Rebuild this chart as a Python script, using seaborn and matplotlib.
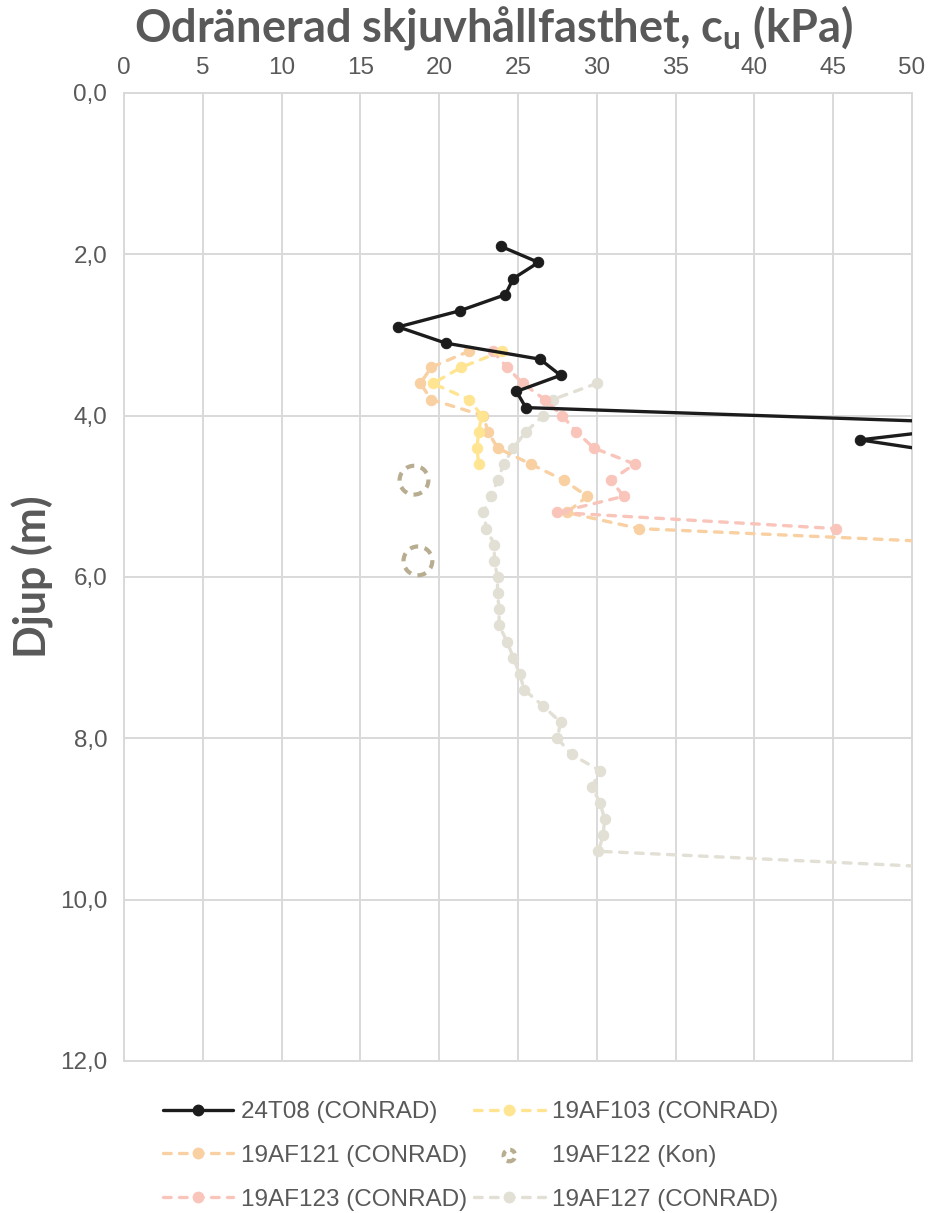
import matplotlib
matplotlib.use("Agg")
import matplotlib.pyplot as plt
import seaborn as sns
import pandas as pd
from matplotlib.lines import Line2D
from matplotlib.ticker import FuncFormatter

# Undrained shear strength profiles (kPa) versus depth (m)
depth_24t08 = [1.9, 2.1, 2.3, 2.5, 2.7, 2.9, 3.1, 3.3, 3.5, 3.7, 3.9, 4.1, 4.3, 4.5]
cu_24t08 = [23.9, 26.3, 24.7, 24.2, 21.3, 17.4, 20.4, 26.4, 27.7, 24.9, 25.5, 55.5, 46.7, 53.5]

depth_19af103 = [3.2, 3.4, 3.6, 3.8, 4.0, 4.2, 4.4, 4.6]
cu_19af103 = [24.0, 21.4, 19.6, 21.9, 22.7, 22.5, 22.4, 22.5]

depth_19af121 = [3.2, 3.4, 3.6, 3.8, 4.0, 4.2, 4.4, 4.6, 4.8, 5.0, 5.2, 5.4, 5.6]
cu_19af121 = [21.9, 19.5, 18.8, 19.5, 22.8, 23.1, 23.7, 25.8, 27.9, 29.4, 28.1, 32.7, 55.8]

depth_19af122 = [4.8, 5.8]
cu_19af122 = [18.4, 18.65]

depth_19af123 = [3.2, 3.4, 3.6, 3.8, 4.0, 4.2, 4.4, 4.6, 4.8, 5.0, 5.2, 5.4]
cu_19af123 = [23.4, 24.3, 25.3, 26.7, 27.8, 28.7, 29.8, 32.4, 30.9, 31.7, 27.5, 45.2]

depth_19af127 = [3.6, 3.8, 4.0, 4.2, 4.4, 4.6, 4.8, 5.0, 5.2, 5.4, 5.6, 5.8, 6.0, 6.2,
                 6.4, 6.6, 6.8, 7.0, 7.2, 7.4, 7.6, 7.8, 8.0, 8.2, 8.4, 8.6, 8.8, 9.0,
                 9.2, 9.4, 9.6]
cu_19af127 = [30.0, 27.2, 26.6, 25.5, 24.7, 24.1, 23.7, 23.3, 22.8, 23.0, 23.5, 23.5, 23.7, 23.7,
              23.8, 23.8, 24.3, 24.7, 25.1, 25.4, 26.6, 27.7, 27.5, 28.4, 30.2, 29.7, 30.2, 30.5,
              30.4, 30.1, 52.0]

x_ticks = [0, 5, 10, 15, 20, 25, 30, 35, 40, 45, 50]
y_ticks = [0, 2, 4, 6, 8, 10, 12]

TEXT = "#595959"
GRID = "#d9d9d9"

sns.set_style("white")
plt.rcParams["font.family"] = ["Liberation Sans", "DejaVu Sans"]
plt.rcParams["mathtext.fontset"] = "custom"
plt.rcParams["mathtext.rm"] = "Lato"
plt.rcParams["mathtext.bf"] = "Lato:bold"

fig = plt.figure(figsize=(9.3, 12.13), dpi=100)
ax = fig.add_axes([124 / 930, 1 - 1061 / 1213, (912 - 124) / 930, (1061 - 93) / 1213])

LW = 2.4
MS = 7.5
dash = (0, (2.3, 2.5))

series = [
    ("24T08 (CONRAD)", cu_24t08, depth_24t08, "#1c1c1c", "-"),
    ("19AF103 (CONRAD)", cu_19af103, depth_19af103, "#ffe591", dash),
    ("19AF121 (CONRAD)", cu_19af121, depth_19af121, "#f8d0a2", dash),
    ("19AF123 (CONRAD)", cu_19af123, depth_19af123, "#f9c5bb", dash),
    ("19AF127 (CONRAD)", cu_19af127, depth_19af127, "#e2dfd4", dash),
]

# Draw back-to-front so the solid profile stays on top
draw_order = [4, 2, 3, 1, 0]
handles = {}
for i in draw_order:
    name, cu, depth, col, ls = series[i]
    df = pd.DataFrame({"cu": cu, "depth": depth})
    sns.lineplot(data=df, x="cu", y="depth", sort=False, estimator=None, ax=ax,
                 color=col, linewidth=LW, linestyle=ls, marker="o", markersize=MS,
                 markeredgecolor=col, markerfacecolor=col, dash_capstyle="round",
                 solid_capstyle="round", zorder=3 + (i == 0))
    handles[name] = Line2D([], [], color=col, linewidth=LW, linestyle=ls, marker="o",
                           markersize=MS, markeredgecolor=col, dash_capstyle="round")

kon_col = "#b8ad91"
kon_df = pd.DataFrame({"cu": cu_19af122, "depth": depth_19af122})
sns.scatterplot(data=kon_df, x="cu", y="depth", ax=ax, marker="o", s=430,
                facecolors="none", edgecolors=kon_col, linewidths=3.0,
                linestyle=(0, (2.0, 1.6)), zorder=3)
kon_handle = ax.scatter([], [], marker="o", s=70, facecolors="none",
                        edgecolors=kon_col, linewidths=3.0, linestyle=(0, (1.5, 1.2)))

ax.set_xlim(0, 50)
ax.set_ylim(12, 0)
ax.set_xticks(x_ticks)
ax.set_yticks(y_ticks)
ax.xaxis.tick_top()
ax.yaxis.set_major_formatter(FuncFormatter(lambda v, p: f"{v:.1f}".replace(".", ",")))
ax.tick_params(axis="both", length=0, labelsize=17.5, labelcolor=TEXT, pad=12)
ax.tick_params(axis="x", pad=10)
ax.grid(True, color=GRID, linewidth=1.4)
for sp in ax.spines.values():
    sp.set_visible(True)
    sp.set_color(GRID)
    sp.set_linewidth(1.4)
ax.set_xlabel("")
ax.set_ylabel("")

fig.text(493 / 930, 1 - 27 / 1213,
         r"Odränerad skjuvhållfasthet, $\mathbf{c_u}$ (kPa)",
         ha="center", va="center", fontsize=32.5, fontweight="bold", color=TEXT,
         family="Lato")
fig.text(33 / 930, 1 - 577 / 1213, "Djup (m)", rotation=90, ha="center", va="center",
         fontsize=31, fontweight="bold", color=TEXT, family="Lato")

order = ["24T08 (CONRAD)", "19AF121 (CONRAD)", "19AF123 (CONRAD)",
         "19AF103 (CONRAD)", None, "19AF127 (CONRAD)"]
leg_handles = [handles[n] if n else kon_handle for n in order]
leg_labels = [n if n else "19AF122 (Kon)" for n in order]
leg = fig.legend(leg_handles, leg_labels, ncol=2, frameon=False,
                 loc="upper left", bbox_to_anchor=(163 / 930, 1 - 1101 / 1213),
                 fontsize=17.5, handlelength=2.9, handletextpad=0.3,
                 columnspacing=0.3, labelspacing=0.9, borderaxespad=0, borderpad=0)
for t in leg.get_texts():
    t.set_color(TEXT)

fig.savefig("out.png", dpi=100)
